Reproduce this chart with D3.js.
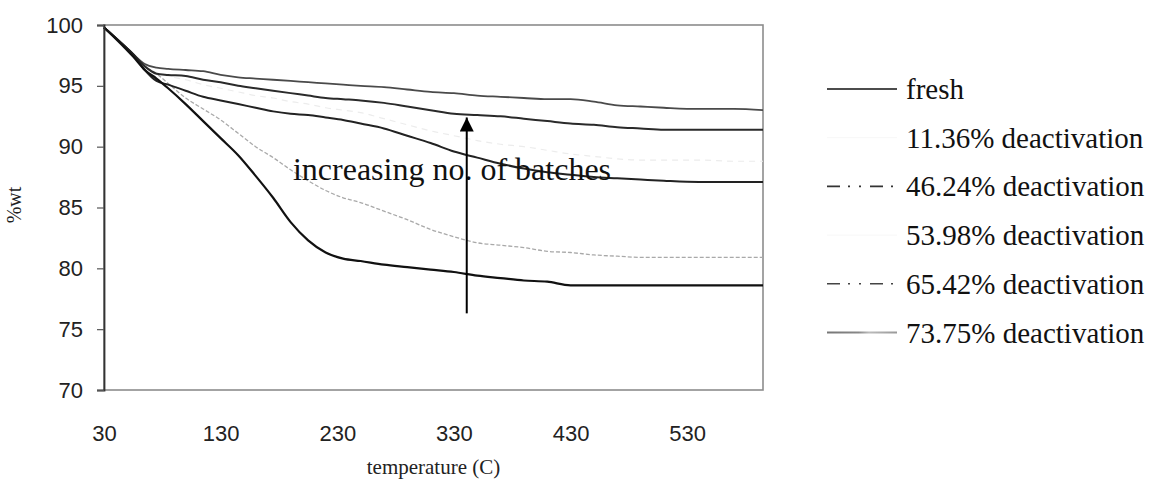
<!DOCTYPE html>
<html>
<head>
<meta charset="utf-8">
<script src="https://cdn.jsdelivr.net/npm/d3@7"></script>
<style>
  html, body { margin: 0; padding: 0; background: #fff; }
  svg { display: block; }
</style>
</head>
<body>
<svg id="chart" width="1149" height="487"></svg>
<script>
// Temperatures (°C) at which each weight-loss curve is sampled
const temps = [30, 45, 55, 65, 75, 85, 100, 115, 130, 145, 160, 175, 190, 205, 220, 235, 250,
               270, 290, 310, 330, 350, 370, 390, 410, 430, 450, 470, 490, 510, 540, 570, 595];

// Residual weight (%wt) for each catalyst
const fresh = [99.8, 98.4, 97.4, 96.3, 95.6, 94.8, 93.5, 92.1, 90.7, 89.3, 87.6, 85.8, 83.8, 82.3, 81.3, 80.8, 80.6,
               80.3, 80.1, 79.9, 79.7, 79.4, 79.2, 79.0, 78.9, 78.6, 78.6, 78.6, 78.6, 78.6, 78.6, 78.6, 78.6];
const deact1136 = [99.8, 98.5, 97.5, 96.6, 96.0, 95.2, 94.0, 93.1, 92.2, 91.1, 90.0, 89.1, 88.1, 87.2, 86.4, 85.8, 85.4,
                   84.7, 84.0, 83.2, 82.6, 82.1, 81.9, 81.7, 81.4, 81.3, 81.1, 81.0, 80.9, 80.9, 80.9, 80.9, 80.9];
const deact4624 = [99.8, 98.5, 97.6, 96.3, 95.4, 95.1, 94.6, 94.1, 93.8, 93.5, 93.2, 92.9, 92.7, 92.6, 92.4, 92.2, 91.9,
                   91.5, 90.9, 90.3, 89.6, 89.1, 88.6, 88.2, 87.9, 87.7, 87.5, 87.4, 87.3, 87.2, 87.1, 87.1, 87.1];
const deact5398 = [99.8, 98.5, 97.6, 96.6, 96.1, 95.8, 95.5, 95.1, 94.8, 94.5, 94.2, 94.0, 93.7, 93.5, 93.2, 93.0, 92.8,
                   92.3, 91.8, 91.3, 90.9, 90.5, 90.2, 90.0, 89.7, 89.4, 89.2, 89.0, 88.9, 88.9, 88.9, 88.8, 88.8];
const deact6542 = [99.8, 98.5, 97.6, 96.6, 96.0, 95.9, 95.8, 95.5, 95.3, 95.0, 94.8, 94.6, 94.4, 94.2, 94.0, 93.9, 93.8,
                   93.6, 93.3, 93.0, 92.7, 92.6, 92.5, 92.3, 92.1, 91.9, 91.8, 91.6, 91.5, 91.4, 91.4, 91.4, 91.4];
const deact7375 = [99.8, 98.5, 97.6, 96.8, 96.5, 96.4, 96.3, 96.2, 95.9, 95.7, 95.6, 95.5, 95.4, 95.3, 95.2, 95.1, 95.0,
                   94.9, 94.7, 94.5, 94.4, 94.2, 94.1, 94.0, 93.9, 93.9, 93.7, 93.4, 93.3, 93.2, 93.1, 93.1, 93.0];

const seriesNames = ["fresh", "11.36% deactivation", "46.24% deactivation",
                     "53.98% deactivation", "65.42% deactivation", "73.75% deactivation"];

const xTickValues = [30, 130, 230, 330, 430, 530];
const yTickValues = [70, 75, 80, 85, 90, 95, 100];

const xDomain = [30, 595];
const yDomain = [70, 100];

// "increasing no. of batches" annotation: text anchor and arrow (temperature, %wt)
const annotationText = "increasing no. of batches";
const annotationAnchor = [192, 87.3];
const arrowFrom = [341, 76.3];
const arrowTo = [341, 92.4];

// Line styles: plot stroke, plot dash, legend stroke, legend dash
const styles = [
  { stroke: "#111", width: 2.2, dash: null, lStroke: "#111", lWidth: 1.3, lDash: null },
  { stroke: "#a9a9a9", width: 1.3, dash: "4,2", lStroke: "#f7f7f7", lWidth: 1, lDash: null },
  { stroke: "#222", width: 2, dash: null, lStroke: "#333", lWidth: 1.6, lDash: "13,8,2,9,2,9" },
  { stroke: "#ececec", width: 1.2, dash: "6,5", lStroke: "#f7f7f7", lWidth: 1, lDash: null },
  { stroke: "#2a2a2a", width: 2, dash: null, lStroke: "#444", lWidth: 1.6, lDash: "13,8,2,9,2,9" },
  { stroke: "#4a4a4a", width: 1.8, dash: null, lStroke: "url(#fadeGrey)", lWidth: 2, lDash: null }
];

const seriesValues = [fresh, deact1136, deact4624, deact5398, deact6542, deact7375];
const series = seriesNames.map((name, i) => ({
  name,
  style: styles[i],
  points: temps.map((t, j) => ({ t, v: seriesValues[i][j] }))
}));

const svg = d3.select("#chart");
const defs = svg.append("defs");
const plot = { left: 104, right: 763, top: 25, bottom: 390 };

const x = d3.scaleLinear().domain(xDomain).range([plot.left, plot.right]);
const y = d3.scaleLinear().domain(yDomain).range([plot.bottom, plot.top]);

// Grey legend swatch that fades to the right
const grad = defs.append("linearGradient").attr("id", "fadeGrey")
  .attr("gradientUnits", "userSpaceOnUse")
  .attr("x1", 0).attr("x2", 70).attr("y1", 0).attr("y2", 0);
grad.append("stop").attr("offset", "0%").attr("stop-color", "#777");
grad.append("stop").attr("offset", "45%").attr("stop-color", "#888");
grad.append("stop").attr("offset", "60%").attr("stop-color", "#bbb");
grad.append("stop").attr("offset", "100%").attr("stop-color", "#999");

// Frame: grey top/right/bottom borders, dark left axis
svg.append("rect")
  .attr("x", plot.left).attr("y", plot.top)
  .attr("width", plot.right - plot.left).attr("height", plot.bottom - plot.top)
  .attr("fill", "#fff").attr("stroke", "#8c8c8c").attr("stroke-width", 1.6);

// Curves
const line = d3.line()
  .x(d => x(d.t))
  .y(d => y(d.v))
  .curve(d3.curveMonotoneX);

const drawOrder = [3, 1, 5, 4, 2, 0];
svg.append("g").selectAll("path")
  .data(drawOrder.map(i => series[i]))
  .join("path")
  .attr("d", d => line(d.points))
  .attr("fill", "none")
  .attr("stroke", d => d.style.stroke)
  .attr("stroke-width", d => d.style.width)
  .attr("stroke-dasharray", d => d.style.dash)
  .attr("stroke-linejoin", "round");

// Y axis
const yAxis = svg.append("g")
  .attr("transform", `translate(${plot.left},0)`)
  .call(d3.axisLeft(y).tickValues(yTickValues).tickSize(7).tickPadding(14).tickFormat(d3.format("d")));
yAxis.select(".domain").attr("stroke", "#333").attr("stroke-width", 1.8);
yAxis.selectAll(".tick line").attr("stroke", "#555").attr("stroke-width", 1.2);
yAxis.selectAll(".tick text")
  .attr("font-family", "'Liberation Sans', Arial, sans-serif")
  .attr("font-size", 22).attr("fill", "#222");

// X axis (labels only)
const xAxis = svg.append("g")
  .attr("transform", `translate(0,${plot.bottom})`)
  .call(d3.axisBottom(x).tickValues(xTickValues).tickSize(0).tickFormat(d3.format("d")));
xAxis.select(".domain").remove();
xAxis.selectAll(".tick text")
  .attr("y", 51).attr("dy", 0)
  .attr("font-family", "'Liberation Sans', Arial, sans-serif")
  .attr("font-size", 22).attr("fill", "#222");

// Axis titles
svg.append("text")
  .attr("x", (plot.left + plot.right) / 2).attr("y", 474)
  .attr("text-anchor", "middle")
  .attr("font-family", "'Liberation Serif', 'Times New Roman', serif")
  .attr("font-size", 21).attr("fill", "#222")
  .text("temperature (C)");

svg.append("text")
  .attr("transform", "translate(21,205) rotate(-90)")
  .attr("text-anchor", "middle")
  .attr("font-family", "'Liberation Serif', 'Times New Roman', serif")
  .attr("font-size", 20).attr("fill", "#222")
  .text("%wt");

// Annotation and arrow
svg.append("text")
  .attr("x", x(annotationAnchor[0])).attr("y", y(annotationAnchor[1]))
  .attr("font-family", "'Liberation Serif', 'Times New Roman', serif")
  .attr("font-size", 32).attr("fill", "#111")
  .text(annotationText);

defs.append("marker")
  .attr("id", "arrowhead")
  .attr("viewBox", "0 0 10 10")
  .attr("refX", 10).attr("refY", 5)
  .attr("markerWidth", 8).attr("markerHeight", 7)
  .attr("orient", "auto")
  .attr("markerUnits", "strokeWidth")
  .append("path").attr("d", "M0,0 L10,5 L0,10 Z").attr("fill", "#000");

svg.append("line")
  .attr("x1", x(arrowFrom[0])).attr("y1", y(arrowFrom[1]))
  .attr("x2", x(arrowTo[0])).attr("y2", y(arrowTo[1]))
  .attr("stroke", "#000").attr("stroke-width", 2)
  .attr("marker-end", "url(#arrowhead)");

// Legend
const legend = svg.append("g").attr("transform", "translate(827,89)");
const rows = legend.selectAll("g")
  .data(series)
  .join("g")
  .attr("transform", (d, i) => `translate(0,${i * 48.7})`);
rows.append("line")
  .attr("x1", 0).attr("x2", 70).attr("y1", 0).attr("y2", 0)
  .attr("stroke", d => d.style.lStroke)
  .attr("stroke-width", d => d.style.lWidth)
  .attr("stroke-dasharray", d => d.style.lDash);
rows.append("text")
  .attr("x", 79).attr("y", 10)
  .attr("font-family", "'Liberation Serif', 'Times New Roman', serif")
  .attr("font-size", 29).attr("fill", "#111")
  .text(d => d.name);
</script>
</body>
</html>
